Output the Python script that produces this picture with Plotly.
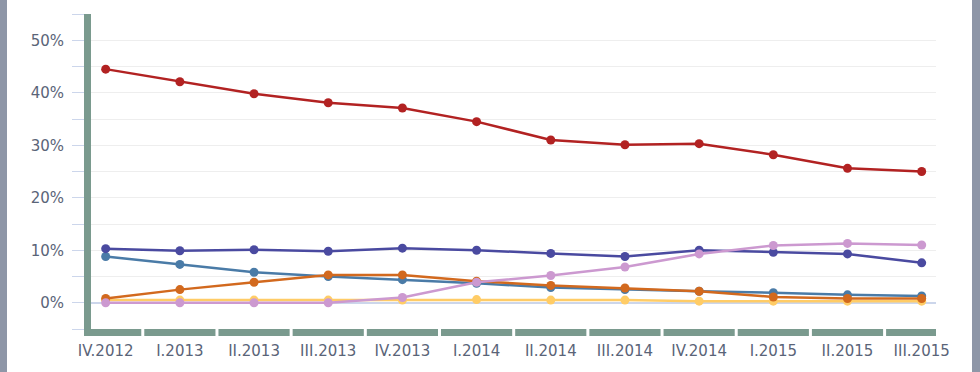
import plotly.graph_objects as go

categories = ["IV.2012", "I.2013", "II.2013", "III.2013", "IV.2013", "I.2014",
              "II.2014", "III.2014", "IV.2014", "I.2015", "II.2015", "III.2015"]

red_vals = [44.5, 42.1, 39.8, 38.1, 37.1, 34.5, 31.0, 30.1, 30.3, 28.2, 25.6, 25.0]
navy_vals = [10.3, 9.9, 10.1, 9.8, 10.4, 10.0, 9.4, 8.8, 10.0, 9.6, 9.3, 7.6]
steel_vals = [8.8, 7.3, 5.8, 5.0, 4.4, 3.7, 2.9, 2.5, 2.2, 1.9, 1.5, 1.3]
orange_vals = [0.8, 2.5, 3.9, 5.3, 5.3, 4.1, 3.3, 2.8, 2.2, 1.1, 0.8, 0.8]
pink_vals = [0.0, 0.0, 0.0, 0.0, 1.0, 3.9, 5.2, 6.8, 9.3, 10.9, 11.3, 11.0]
yellow_vals = [0.5, 0.5, 0.5, 0.5, 0.5, 0.6, 0.5, 0.5, 0.3, 0.3, 0.3, 0.3]

series = [
    ("yellow", yellow_vals, "#ffcc66"),
    ("steel", steel_vals, "#4a7ba7"),
    ("orange", orange_vals, "#d2691e"),
    ("navy", navy_vals, "#4a4aa0"),
    ("pink", pink_vals, "#cc99d0"),
    ("red", red_vals, "#b22222"),
]

AXIS_GREEN = "#7a9a8e"
TICK_BLUE = "#ccd6eb"
TEXT = "#5a6478"
STRIPE = "#8e96a7"

W, H = 980, 372
ML, MR, MT, MB = 91, 44, 14, 43
PW, PH = W - ML - MR, H - MT - MB
xr = [-0.198, len(categories) - 1 + 0.193]

fig = go.Figure()
for name, vals, col in series:
    fig.add_trace(go.Scatter(
        x=list(range(len(categories))), y=[v / 100 for v in vals],
        mode="lines+markers", name=name,
        line=dict(color=col, width=2.5),
        marker=dict(color=col, size=9),
        showlegend=False,
    ))

def xp(v):
    return (v - xr[0]) / (xr[1] - xr[0])

shapes = []
lw = 7
gap = 1.5 / PW
for i in range(len(categories)):
    x0 = xp(i - 0.5) + gap if i > 0 else -lw / PW
    x1 = xp(i + 0.5) - gap if i < len(categories) - 1 else 1.0
    shapes.append(dict(type="rect", xref="paper", yref="paper",
                       x0=x0, x1=x1, y0=-lw / PH, y1=0,
                       fillcolor=AXIS_GREEN, line=dict(width=0), layer="above"))
# page border stripes
shapes.append(dict(type="rect", xref="paper", yref="paper",
                   x0=-ML / PW, x1=-(ML - 7) / PW, y0=-MB / PH, y1=1 + MT / PH,
                   fillcolor=STRIPE, line=dict(width=0), layer="above"))
shapes.append(dict(type="rect", xref="paper", yref="paper",
                   x0=(972 - ML) / PW, x1=(W - ML) / PW, y0=-MB / PH, y1=1 + MT / PH,
                   fillcolor=STRIPE, line=dict(width=0), layer="above"))

fig.update_layout(
    width=W, height=H,
    margin=dict(l=ML, r=MR, t=MT, b=MB, pad=0),
    paper_bgcolor="white", plot_bgcolor="white",
    font=dict(family="DejaVu Sans", size=15, color=TEXT),
    shapes=shapes,
    xaxis=dict(
        range=xr, tickmode="array", tickvals=list(range(len(categories))),
        ticktext=categories, showgrid=False, zeroline=False, showline=False,
        ticks="", tickfont=dict(size=15, color=TEXT), ticklabelstandoff=11,
    ),
    yaxis=dict(
        range=[-0.05, 0.55], tick0=0, dtick=0.1, tickformat=".0%",
        showgrid=True, gridcolor="#eeeeee", gridwidth=1,
        zeroline=True, zerolinecolor=TICK_BLUE, zerolinewidth=1.5,
        showline=True, linecolor=AXIS_GREEN, linewidth=7,
        ticks="outside", ticklen=12, tickcolor=TICK_BLUE, tickwidth=1,
        minor=dict(dtick=0.05, tick0=0, showgrid=True, gridcolor="#eeeeee",
                   ticks="outside", ticklen=12, tickcolor=TICK_BLUE, tickwidth=1),
        tickfont=dict(size=15, color=TEXT), ticklabelstandoff=5,
    ),
)

fig.write_html(
    "out.html",
    config={"displayModeBar": False},
    post_script="document.body.style.margin='0';document.body.style.overflow='hidden';",
)
